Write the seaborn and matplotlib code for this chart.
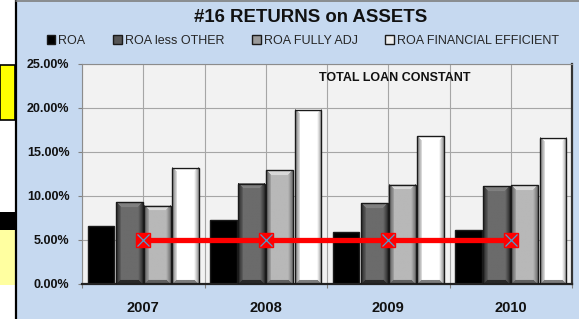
import numpy as np
import pandas as pd
import matplotlib
matplotlib.use("Agg")
import matplotlib.pyplot as plt
from matplotlib.patches import Rectangle
from matplotlib.lines import Line2D
from matplotlib.ticker import FuncFormatter
import seaborn as sns

# --- data (percent) ---
years = ["2007", "2008", "2009", "2010"]
series_names = ["ROA", "ROA less OTHER", "ROA FULLY ADJ", "ROA FINANCIAL EFFICIENT"]
roa = [6.6, 7.3, 5.9, 6.1]
roa_less_other = [9.3, 11.4, 9.2, 11.1]
roa_fully_adj = [8.9, 12.9, 11.3, 11.2]
roa_fin_eff = [13.2, 19.8, 16.8, 16.6]
loan_constant = [5.0, 5.0, 5.0, 5.0]

df = pd.DataFrame({
    "year": years * 4,
    "series": [s for s in series_names for _ in years],
    "value": [v / 100 for v in roa + roa_less_other + roa_fully_adj + roa_fin_eff],
})

# gray levels for the bevel look: (edge, middle, top highlight)
shades = [None, (0.18, 0.42, 0.50), (0.42, 0.72, 0.85), (0.55, 1.0, 1.0)]
palette = ["#000000", "#555555", "#9a9a9a", "#eeeeee"]

sns.set_theme(style="white")
plt.rcParams["font.family"] = ["Liberation Sans", "DejaVu Sans"]

blue_bg = "#c6d9f0"
fig = plt.figure(figsize=(5.79, 3.19), dpi=100, facecolor=blue_bg)
ax = fig.add_axes([82 / 579, 1 - 284 / 319, 490 / 579, 220 / 319])
ax.set_facecolor("#f2f2f2")

sns.barplot(data=df, x="year", y="value", hue="series", hue_order=series_names,
            palette=palette, width=0.92, gap=0.05, edgecolor="#1a1a1a",
            linewidth=1.0, saturation=1, ax=ax)
handles, labels = ax.get_legend_handles_labels()
ax.get_legend().remove()


def bevel(nrows, ncols, edge, mid, top, b=5.0):
    X, Y = np.meshgrid(np.arange(ncols) + 0.5, np.arange(nrows) + 0.5)
    dl, dr = X, ncols - X
    dt, db = Y, nrows - Y
    side = np.minimum(dl, dr)
    img = edge + (mid - edge) * np.clip(side / b, 0, 1)
    img = np.where(dl < b, img * 0.85, img)
    img = np.where((dt < b) & (dt < side), top, img)
    img = np.where((db < 4) & (db < side), edge * 0.9, img)
    return img


for i, cont in enumerate(ax.containers):
    if shades[i] is None:
        continue
    edge, mid, top = shades[i]
    for bar in cont:
        x0, w, h = bar.get_x(), bar.get_width(), bar.get_height()
        nrows = max(int(h / 0.25 * 220), 2)
        img = bevel(nrows, 28, edge, mid, top)
        ax.imshow(img, cmap="gray", vmin=0, vmax=1, aspect="auto",
                  extent=[x0, x0 + w, 0, h], zorder=2.5, interpolation="bilinear")
        bar.set_facecolor("none")
        bar.set_zorder(3)

# total loan constant line
xpos = np.arange(len(years))
ax.plot(xpos, [v / 100 for v in loan_constant], color="#ff0000", lw=3.8,
        marker="s", markersize=10.5, markerfacecolor="#ff0000",
        markeredgecolor="#ff0000", zorder=4)
ax.plot(xpos, [v / 100 for v in loan_constant], lw=0, marker="x",
        markersize=8.5, markeredgecolor="#4a9fd0", markeredgewidth=0.9, zorder=5)

ax.set_xlim(-0.5, len(years) - 0.5)
ax.set_ylim(0, 0.25)
ax.set_yticks(np.arange(0, 0.2501, 0.05))
ax.yaxis.set_major_formatter(FuncFormatter(lambda v, p: f"{v * 100:.2f}%"))
ax.set_xticks(np.arange(-0.5, len(years), 1.0), minor=True)
ax.set_xlabel("")
ax.set_ylabel("")

ax.set_axisbelow(True)
ax.grid(True, which="major", color="#a6a6a6", lw=0.8)
ax.grid(True, which="minor", axis="x", color="#a6a6a6", lw=0.8)
ax.tick_params(axis="y", which="major", left=True, length=3, width=0.8,
               color="#808080", pad=6, labelsize=9)
ax.tick_params(axis="x", which="major", bottom=False, pad=6, labelsize=10.5)
ax.tick_params(axis="x", which="minor", bottom=True, length=3, width=0.8,
               color="#808080")
for lbl in ax.get_yticklabels() + ax.get_xticklabels():
    lbl.set_fontweight("bold")
    lbl.set_color("#111111")

for side in ["left", "top"]:
    ax.spines[side].set_color("#8c8c8c")
    ax.spines[side].set_linewidth(0.8)
ax.spines["right"].set_color("#333333")
ax.spines["right"].set_linewidth(1.6)
ax.spines["bottom"].set_color("#222222")
ax.spines["bottom"].set_linewidth(1.6)

ax.text(0.638, 0.936, "TOTAL LOAN CONSTANT", transform=ax.transAxes,
        ha="center", va="center", fontsize=9, fontweight="bold", color="#111111")

fig.text(0.536, 0.944, "#16 RETURNS on ASSETS", ha="center", va="center",
         fontsize=13.4, fontweight="bold", color="#111111")

fig.legend(handles, labels, loc="center", bbox_to_anchor=(0.523, 0.871),
           ncol=4, frameon=False, fontsize=9, handlelength=0.7,
           handleheight=0.7, handletextpad=0.25, columnspacing=2.2,
           borderaxespad=0, borderpad=0)

# left-hand worksheet fragments and chart border
fig.add_artist(Rectangle((0, 0), 16 / 579, 1, transform=fig.transFigure,
                         facecolor="white", edgecolor="none", zorder=0))
fig.add_artist(Rectangle((0, 1 - 120 / 319), 15 / 579, 55 / 319,
                         transform=fig.transFigure, facecolor="#ffff00",
                         edgecolor="black", lw=1.2, zorder=1))
fig.add_artist(Rectangle((0, 1 - 230 / 319), 15 / 579, 18 / 319,
                         transform=fig.transFigure, facecolor="black",
                         edgecolor="none", zorder=1))
fig.add_artist(Rectangle((0, 1 - 285 / 319), 15 / 579, 55 / 319,
                         transform=fig.transFigure, facecolor="#ffffa0",
                         edgecolor="none", zorder=1))
fig.add_artist(Line2D([16 / 579, 16 / 579], [0, 1], transform=fig.transFigure,
                      color="black", lw=1.6, zorder=2))
fig.add_artist(Line2D([16 / 579, 1], [0.998, 0.998], transform=fig.transFigure,
                      color="#7f7f7f", lw=1.2, zorder=2))

fig.savefig("out.png", dpi=100, facecolor=blue_bg)
